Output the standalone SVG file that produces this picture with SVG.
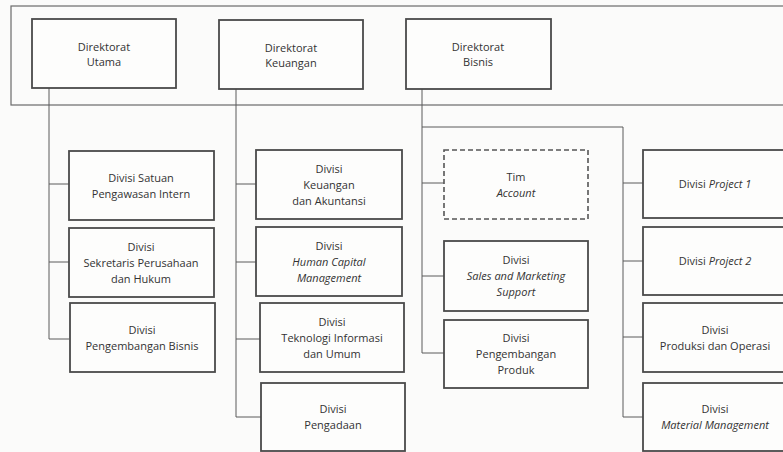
<svg xmlns="http://www.w3.org/2000/svg" width="783" height="452" viewBox="0 0 783 452">
<style>
.bg{fill:#fbfbfa}
.frame{fill:none;stroke:#6a6a6a;stroke-width:1.2}
.box{fill:#fdfdfc;stroke:#4a4a4a;stroke-width:1.8}
.dash{fill:#fdfdfc;stroke:#555;stroke-width:1.6;stroke-dasharray:5,3}
.ln{fill:none;stroke:#5a5a5a;stroke-width:1}
text{font-family:"Open Sans","Noto Sans","Liberation Sans",sans-serif;font-size:11px;fill:#333;text-anchor:middle}
.i{font-style:italic}
</style>
<rect class="bg" x="0" y="0" width="783" height="452"/>
<rect class="frame" x="11" y="6" width="790" height="99"/>
<g id="connectors">
<path class="ln" d="M49,88 V339 M49,184 H69 M49,262 H69 M49,339 H69"/>
<path class="ln" d="M236,89 V417 M236,184 H256 M236,262 H256 M236,339 H260 M236,417 H261"/>
<path class="ln" d="M422,89 V353 M422,183 H444 M422,276 H444 M422,353 H444"/>
<path class="ln" d="M422,127 H623 V417 M623,183 H643 M623,261 H643 M623,337 H643 M623,417 H643"/>
</g>
<g id="dir-utama"><rect class="box" x="32" y="19" width="144" height="69"/><text x="104" y="51">Direktorat</text><text x="104" y="66">Utama</text></g>
<g id="dir-keuangan"><rect class="box" x="219" y="20" width="144" height="69"/><text x="291" y="52">Direktorat</text><text x="291" y="67">Keuangan</text></g>
<g id="dir-bisnis"><rect class="box" x="406" y="19" width="145" height="70"/><text x="478" y="51">Direktorat</text><text x="478" y="66">Bisnis</text></g>

<g id="div-spi"><rect class="box" x="69" y="151" width="145" height="69"/><text x="141" y="182">Divisi Satuan</text><text x="141" y="198">Pengawasan Intern</text></g>
<g id="div-sekper"><rect class="box" x="69" y="228" width="145" height="69"/><text x="141" y="251">Divisi</text><text x="141" y="267">Sekretaris Perusahaan</text><text x="141" y="283">dan Hukum</text></g>
<g id="div-pengbisnis"><rect class="box" x="70" y="303" width="145" height="69"/><text x="142" y="334">Divisi</text><text x="142" y="350">Pengembangan Bisnis</text></g>

<g id="div-keuangan"><rect class="box" x="256" y="150" width="146" height="69"/><text x="329" y="173">Divisi</text><text x="329" y="189">Keuangan</text><text x="329" y="205">dan Akuntansi</text></g>
<g id="div-hcm"><rect class="box" x="256" y="227" width="146" height="69"/><text x="329" y="250">Divisi</text><text x="329" y="266" class="i">Human Capital</text><text x="329" y="282" class="i">Management</text></g>
<g id="div-ti"><rect class="box" x="260" y="303" width="144" height="69"/><text x="332" y="326">Divisi</text><text x="332" y="342">Teknologi Informasi</text><text x="332" y="358">dan Umum</text></g>
<g id="div-pengadaan"><rect class="box" x="261" y="383" width="144" height="68"/><text x="333" y="413">Divisi</text><text x="333" y="429">Pengadaan</text></g>

<g id="tim-account"><rect class="dash" x="444" y="150" width="144" height="69"/><text x="516" y="181">Tim</text><text x="516" y="197" class="i">Account</text></g>
<g id="div-sms"><rect class="box" x="444" y="241" width="144" height="70"/><text x="516" y="264">Divisi</text><text x="516" y="280" class="i">Sales and Marketing</text><text x="516" y="296" class="i">Support</text></g>
<g id="div-pengproduk"><rect class="box" x="444" y="320" width="144" height="68"/><text x="516" y="342">Divisi</text><text x="516" y="358">Pengembangan</text><text x="516" y="374">Produk</text></g>

<g id="div-project1"><rect class="box" x="643" y="150" width="145" height="68"/><text x="715" y="188">Divisi <tspan class="i">Project 1</tspan></text></g>
<g id="div-project2"><rect class="box" x="643" y="227" width="145" height="68"/><text x="715" y="265">Divisi <tspan class="i">Project 2</tspan></text></g>
<g id="div-produksi"><rect class="box" x="643" y="303" width="145" height="69"/><text x="715" y="334">Divisi</text><text x="715" y="350">Produksi dan Operasi</text></g>
<g id="div-material"><rect class="box" x="643" y="383" width="145" height="68"/><text x="715" y="413">Divisi</text><text x="715" y="429" class="i">Material Management</text></g>
</svg>
